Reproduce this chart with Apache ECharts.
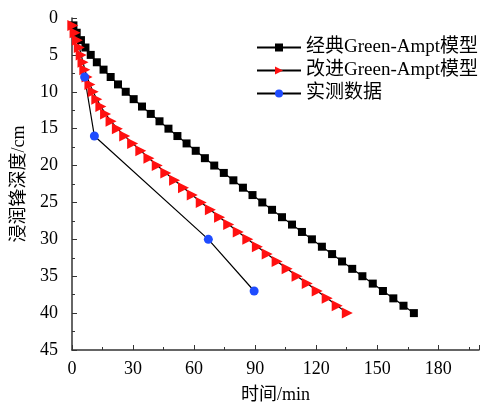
<!DOCTYPE html>
<html>
<head>
<meta charset="utf-8">
<script src="https://cdn.jsdelivr.net/npm/echarts@6/dist/echarts.min.js"></script>
<style>
  html, body { margin: 0; padding: 0; background: #fff; }
  #chart { width: 482px; height: 409px; }
</style>
</head>
<body>
<div id="chart"></div>
<script>
// Wetting-front depth (cm) and elapsed time (min)
const depthCm = [1,2,3,4,5,6,7,8,9,10,11,12,13,14,15,16,17,18,19,20,
                 21,22,23,24,25,26,27,28,29,30,31,32,33,34,35,36,37,38,39,40];
const classicTime = [0.7,2.3,4.4,6.6,9.2,12.2,15.5,19.0,22.6,26.4,30.3,34.4,38.7,43.0,47.4,51.8,56.3,60.8,65.3,69.9,
                     74.6,79.3,84.0,88.7,93.5,98.3,103.2,108.1,113.0,117.9,122.8,127.8,132.7,137.7,142.7,147.8,152.8,157.9,162.9,168.0];
const improvedTime = [0.4,1.5,2.6,3.6,4.5,5.4,6.3,7.4,8.8,10.4,12.2,14.2,16.5,19.2,22.3,25.9,29.8,33.8,37.8,41.9,
                      46.1,50.4,54.8,59.1,63.5,68.0,72.5,77.0,81.7,86.4,91.1,95.9,100.8,105.7,110.6,115.6,120.5,125.4,130.3,135.3];
const measuredTime = [6.2, 11, 67, 89.5];
const measuredDepth = [8, 16, 30, 37];

const seriesNames = ['经典Green-Ampt模型', '改进Green-Ampt模型', '实测数据'];

const pairs = (xs, ys) => xs.map((x, i) => [x, ys[i]]);

const FONT = '"Liberation Serif", "Times New Roman", "Noto Sans CJK SC", serif';
const axisColor = '#333';
const FS = 18;

const chart = echarts.init(document.getElementById('chart'), null, { renderer: 'canvas' });
chart.setOption({
  animation: false,
  backgroundColor: '#fff',
  grid: { left: 72, top: 18, right: 1, bottom: 57, containLabel: false },
  legend: {
    orient: 'vertical',
    left: 251,
    top: 33,
    itemWidth: 44,
    itemHeight: 10,
    itemGap: 4,
    textStyle: { fontFamily: FONT, fontSize: 19, color: '#000' },
    data: seriesNames
  },
  xAxis: {
    type: 'value',
    min: 0, max: 200, interval: 30,
    name: '时间/min',
    nameLocation: 'middle',
    nameGap: 36,
    nameTextStyle: { fontFamily: FONT, fontSize: FS, color: '#000' },
    axisLine: { onZero: false, lineStyle: { color: axisColor, width: 1.5 } },
    axisTick: { inside: true, length: 5, lineStyle: { color: axisColor } },
    minorTick: { show: true, splitNumber: 2, length: 3, lineStyle: { color: axisColor } },
    axisLabel: { fontFamily: FONT, fontSize: FS, color: '#000', margin: 10,
      formatter: v => (v <= 180 ? String(v) : '') },
    splitLine: { show: false }
  },
  yAxis: {
    type: 'value',
    inverse: true,
    min: 0, max: 45, interval: 5,
    name: '浸润锋深度/cm',
    nameLocation: 'middle',
    nameGap: 44,
    nameRotate: 90,
    nameTextStyle: { fontFamily: FONT, fontSize: FS, color: '#000' },
    axisLine: { show: true, lineStyle: { color: axisColor, width: 1.5 } },
    axisTick: { show: true, inside: true, length: 5, lineStyle: { color: axisColor } },
    minorTick: { show: true, splitNumber: 2, length: 3, lineStyle: { color: axisColor } },
    axisLabel: { fontFamily: FONT, fontSize: FS, color: '#000', margin: 14 },
    splitLine: { show: false }
  },
  series: [
    {
      name: seriesNames[0],
      type: 'line',
      data: pairs(classicTime, depthCm),
      symbol: 'rect',
      symbolSize: 8,
      itemStyle: { color: '#000' },
      lineStyle: { color: '#000', width: 1.2 }
    },
    {
      name: seriesNames[1],
      type: 'line',
      data: pairs(improvedTime, depthCm),
      symbol: 'triangle',
      symbolRotate: -90,
      symbolSize: 11,
      itemStyle: { color: '#ff1010' },
      lineStyle: { color: '#000', width: 1.2 }
    },
    {
      name: seriesNames[2],
      type: 'line',
      data: pairs(measuredTime, measuredDepth),
      symbol: 'circle',
      symbolSize: 9,
      itemStyle: { color: '#1f4cff' },
      lineStyle: { color: '#000', width: 1.2 }
    }
  ]
});
</script>
</body>
</html>
